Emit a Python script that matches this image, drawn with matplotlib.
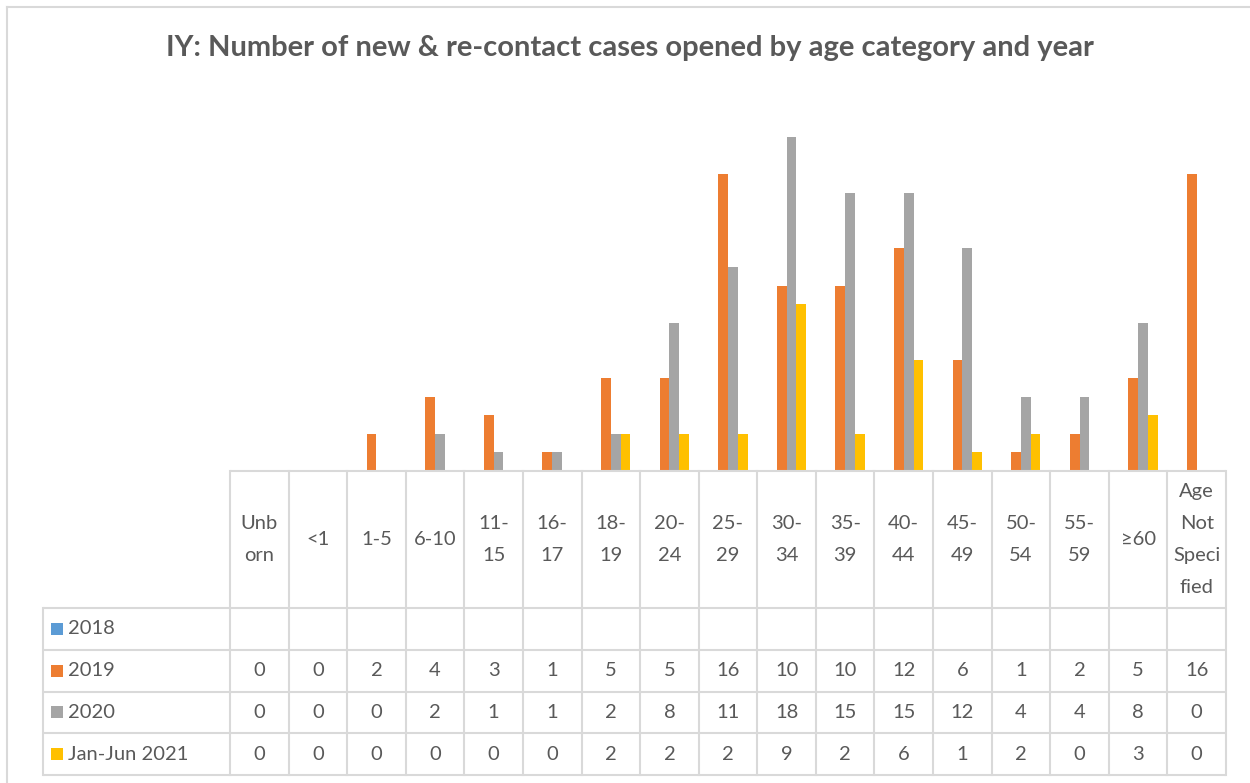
import numpy as np
import matplotlib
matplotlib.use("Agg")
import matplotlib.pyplot as plt
from matplotlib.patches import Rectangle

# ---------------- data ----------------
categories = ["Unb\norn", "<1", "1-5", "6-10", "11-\n15", "16-\n17", "18-\n19",
              "20-\n24", "25-\n29", "30-\n34", "35-\n39", "40-\n44", "45-\n49",
              "50-\n54", "55-\n59", "≥60", "Age\nNot\nSpeci\nfied"]
series_names = ["2018", "2019", "2020", "Jan-Jun 2021"]
v2018 = [None] * 17
v2019 = [0, 0, 2, 4, 3, 1, 5, 5, 16, 10, 10, 12, 6, 1, 2, 5, 16]
v2020 = [0, 0, 0, 2, 1, 1, 2, 8, 11, 18, 15, 15, 12, 4, 4, 8, 0]
v2021 = [0, 0, 0, 0, 0, 0, 2, 2, 2, 9, 2, 6, 1, 2, 0, 3, 0]
series_values = [v2018, v2019, v2020, v2021]
colors = ["#5B9BD5", "#ED7D31", "#A5A5A5", "#FFC000"]
title = "IY: Number of new & re-contact cases opened by age category and year"

# ---------------- layout ----------------
W, H = 1250, 783
FONT = "Lato"
TXT = "#595959"
GRID = "#D9D9D9"
FS = 14.5

fig = plt.figure(figsize=(W / 100, H / 100), dpi=100)
fig.patch.set_facecolor("white")

plot_left, plot_right = 230, 1226
plot_top, plot_base = 100, 471
ax = fig.add_axes([plot_left / W, (H - plot_base) / H,
                   (plot_right - plot_left) / W, (plot_base - plot_top) / H])
n = len(categories)
x = np.arange(n)
ax.set_xlim(-0.5, n - 0.5)
ax.set_ylim(0, 20)
ax.axis("off")

ns = len(series_names)
bw = (1 / 1.5) / ns
for i, (vals, col) in enumerate(zip(series_values, colors)):
    arr = np.array([np.nan if v is None else v for v in vals], dtype=float)
    ax.bar(x + (i - (ns - 1) / 2) * bw, arr, width=bw, color=col, linewidth=0)

# overlay in pixel coordinates (top-left origin)
ov = fig.add_axes([0, 0, 1, 1])
ov.set_xlim(0, W)
ov.set_ylim(H, 0)
ov.axis("off")
ov.patch.set_alpha(0)

# column edges derived from bar axes scale
edges = np.arange(n + 1) - 0.5
col_x = ax.transData.transform(np.column_stack([edges, np.zeros(n + 1)]))[:, 0]
base_y = H - ax.transData.transform((0, 0))[1]

header_bottom = 608
row_h = 41.75
row_edges = [header_bottom + k * row_h for k in range(ns + 1)]
label_left = 43
lw = 1.5

# table grid
ov.plot([col_x[0], col_x[-1]], [base_y, base_y], color=GRID, lw=lw, solid_capstyle="butt")
for y in row_edges:
    ov.plot([label_left, col_x[-1]], [y, y], color=GRID, lw=lw, solid_capstyle="butt")
ov.plot([label_left, label_left], [row_edges[0], row_edges[-1]], color=GRID, lw=lw)
for cx in col_x:
    ov.plot([cx, cx], [base_y, row_edges[-1]], color=GRID, lw=lw)

# header labels
hdr_y = (base_y + header_bottom) / 2
centers = (col_x[:-1] + col_x[1:]) / 2
for cx, lab in zip(centers, categories):
    ov.text(cx, hdr_y, lab, ha="center", va="center", fontsize=FS,
            color=TXT, family=[FONT, "DejaVu Sans"], linespacing=2.08)

# rows
for r, (name, vals, col) in enumerate(zip(series_names, series_values, colors)):
    yc = (row_edges[r] + row_edges[r + 1]) / 2
    ov.add_patch(Rectangle((51, yc - 6), 12, 12, facecolor=col, edgecolor="none"))
    ov.text(68, yc, name, ha="left", va="center", fontsize=FS, color=TXT,
            family=[FONT, "DejaVu Sans"])
    for cx, v in zip(centers, vals):
        if v is not None:
            ov.text(cx, yc, str(v), ha="center", va="center", fontsize=FS,
                    color=TXT, family=[FONT, "DejaVu Sans"])

# title
ov.text(630, 48, title, ha="center", va="center", fontsize=21, fontweight="bold",
        color=TXT, family=[FONT, "DejaVu Sans"])

# chart border
ov.plot([7, 7], [7, H], color=GRID, lw=1.5)
ov.plot([7, W], [7, 7], color=GRID, lw=1.5)

fig.savefig("out.png", dpi=100, facecolor="white")
